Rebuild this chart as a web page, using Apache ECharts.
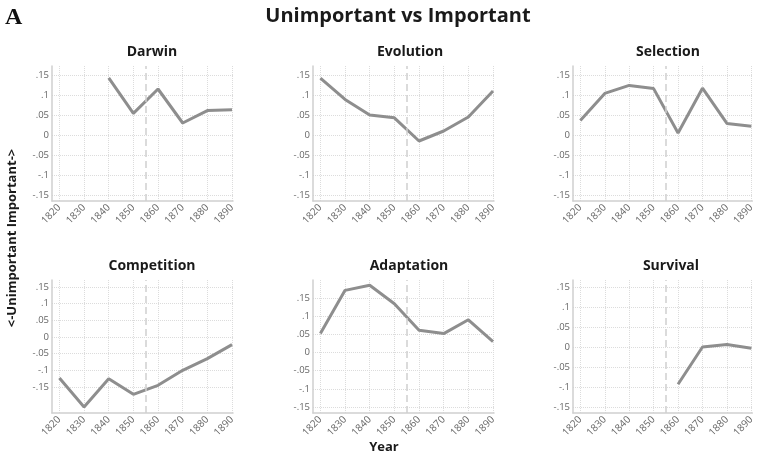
<!DOCTYPE html>
<html>
<head>
<meta charset="utf-8">
<script src="https://cdn.jsdelivr.net/npm/echarts@6/dist/echarts.min.js"></script>
<style>
  html, body { margin: 0; padding: 0; background: #fff; }
  #chart { width: 757px; height: 458px; }
</style>
</head>
<body>
<div id="chart"></div>
<script>
// Decades on the horizontal axis
const years = [1820, 1830, 1840, 1850, 1860, 1870, 1880, 1890];

// Word scores per decade (null = no data for that decade)
const darwin      = [null, null, 0.143, 0.054, 0.115, 0.030, 0.061, 0.063];
const evolution   = [0.142, 0.089, 0.050, 0.043, -0.015, 0.010, 0.045, 0.110];
const selection   = [0.036, 0.104, 0.124, 0.116, 0.005, 0.117, 0.029, 0.022];
const competition = [-0.123, -0.210, -0.125, -0.172, -0.145, -0.100, -0.065, -0.023];
const adaptation  = [0.052, 0.171, 0.185, 0.134, 0.061, 0.052, 0.090, 0.030];
const survival    = [null, null, null, null, -0.093, 0.000, 0.006, -0.003];

const panelTitles = ['Darwin', 'Evolution', 'Selection', 'Competition', 'Adaptation', 'Survival'];
const panelValues = [darwin, evolution, selection, competition, adaptation, survival];

// Y tick positions and their printed labels
const yTicks = [-0.15, -0.1, -0.05, 0, 0.05, 0.1, 0.15];
const yTickLabels = ['-.15', '-.1', '-.05', '0', '.05', '.1', '.15'];

// Reference year marked by the dashed rule
const markYear = 1855;

// Layout of each small plot: grid box and value range
const panels = [
  { left: 52,  top: 66,  height: 135, min: -0.165, max: 0.1725 },
  { left: 313, top: 66,  height: 135, min: -0.165, max: 0.1725 },
  { left: 573, top: 66,  height: 135, min: -0.165, max: 0.1725 },
  { left: 52,  top: 280, height: 133, min: -0.228, max: 0.171 },
  { left: 313, top: 280, height: 133, min: -0.1665, max: 0.1995 },
  { left: 573, top: 280, height: 133, min: -0.165, max: 0.1675 }
];
const plotWidth = 181;
const titleCenters = [147, 405, 663, 147, 404, 666];

const labelFont = '"Open Sans", sans-serif';
const gridColor = '#dcdcdc';
const axisColor = '#cfcfcf';
const lineColor = '#8e8e8e';

const grids = [], xAxes = [], yAxes = [], series = [], titles = [];

titles.push({
  text: 'Unimportant vs Important',
  left: 393, top: 1, textAlign: 'center',
  textStyle: { fontFamily: labelFont, fontWeight: 'bold', fontSize: 20, color: '#1a1a1a' }
});

panels.forEach((p, i) => {
  grids.push({ left: p.left, top: p.top, width: plotWidth, height: p.height, containLabel: false });

  xAxes.push({
    type: 'value', gridIndex: i, min: 1817, max: 1890.4,
    axisLine: { show: true, onZero: false, lineStyle: { color: axisColor, width: 1.5 } },
    axisTick: { show: false, customValues: years },
    axisLabel: {
      customValues: years, rotate: 45, margin: 5,
      fontFamily: labelFont, fontSize: 10, color: '#666',
      formatter: v => String(v)
    },
    splitLine: { show: true, lineStyle: { color: gridColor, type: 'dotted', width: 1 } }
  });

  yAxes.push({
    type: 'value', gridIndex: i, min: p.min, max: p.max,
    axisLine: { show: true, onZero: false, lineStyle: { color: axisColor, width: 1.5 } },
    axisTick: { show: false, customValues: yTicks },
    axisLabel: {
      customValues: yTicks, margin: 3,
      fontFamily: labelFont, fontSize: 9.5, color: '#666',
      formatter: v => {
        const k = yTicks.findIndex(t => Math.abs(t - v) < 1e-9);
        return k >= 0 ? yTickLabels[k] : '';
      }
    },
    splitLine: { show: true, lineStyle: { color: gridColor, type: 'dotted', width: 1 } }
  });

  const pts = [];
  years.forEach((y, k) => {
    if (panelValues[i][k] !== null) pts.push([y, panelValues[i][k]]);
  });

  series.push({
    type: 'line', xAxisIndex: i, yAxisIndex: i,
    data: pts, showSymbol: false, symbol: 'none',
    lineStyle: { color: lineColor, width: 3 },
    animation: false,
    markLine: {
      silent: true, symbol: 'none', animation: false,
      label: { show: false },
      lineStyle: { color: '#cfcfcf', type: [7, 4], width: 1.5 },
      data: [{ xAxis: markYear }]
    }
  });

  titles.push({
    text: panelTitles[i],
    left: titleCenters[i], top: p.top - 26, textAlign: 'center',
    textStyle: { fontFamily: labelFont, fontWeight: 'bold', fontSize: 14, color: '#1a1a1a' }
  });
});

const chart = echarts.init(document.getElementById('chart'), null, { renderer: 'canvas' });
chart.setOption({
  animation: false,
  backgroundColor: '#fff',
  title: titles,
  grid: grids,
  xAxis: xAxes,
  yAxis: yAxes,
  series: series,
  graphic: [
    {
      type: 'text', left: 5, top: 6,
      style: { text: 'A', font: 'bold 24px "Liberation Serif", serif', fill: '#111' }
    },
    {
      type: 'text', x: 12, y: 238, rotation: Math.PI / 2,
      style: {
        text: '<-Unimportant Important->', align: 'center', verticalAlign: 'middle',
        font: 'bold 13px "Open Sans", sans-serif', fill: '#1a1a1a'
      }
    },
    {
      type: 'text', x: 384, y: 447,
      style: {
        text: 'Year', align: 'center', verticalAlign: 'middle',
        font: 'bold 13px "Open Sans", sans-serif', fill: '#1a1a1a'
      }
    }
  ]
});
</script>
</body>
</html>
